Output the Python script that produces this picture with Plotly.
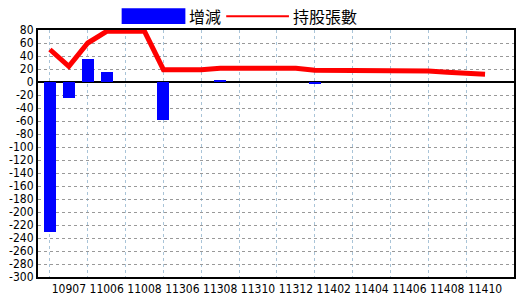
import plotly.graph_objects as go

periods = ["10906", "10907", "11005", "11006", "11007", "11008", "11305", "11306",
           "11307", "11308", "11309", "11310", "11311", "11312", "11401", "11402",
           "11403", "11404", "11405", "11406", "11407", "11408", "11409", "11410"]
change = [-230, -25, 35, 15, 0, 0, -58, 0, 0, 2, 0, 0, 0, 0, -3, 0, 0, 0, 0, 0, 0, 0, 0, 0]
holdings = [50, 24, 60, 78, 78, 78, 19, 19, 19, 21, 21, 21, 21, 21, 18, 18, 18, 18, 18, 18, 17, 15, 14, 12]
tick_labels = periods[1::2]
y_ticks = list(range(-300, 81, 20))

x = list(range(len(periods)))
font_stack = "Liberation Sans Narrow, DejaVu Sans Condensed, Liberation Sans, sans-serif"

fig = go.Figure()
fig.add_trace(go.Bar(x=x, y=change, name="增減", marker=dict(color="#0000ff", line=dict(width=0)),
                     width=0.63, showlegend=False))
fig.add_trace(go.Scatter(x=x, y=holdings, name="持股張數", mode="lines",
                         line=dict(color="#ff0000", width=5), showlegend=False, cliponaxis=True))

fig.update_layout(
    width=520, height=300,
    margin=dict(l=38, r=4, t=30, b=20),
    paper_bgcolor="white", plot_bgcolor="white",
    bargap=0,
    font=dict(family=font_stack, size=12, color="black"),
    xaxis=dict(
        range=[-0.63, 24.53],
        tickmode="array", tickvals=x[1::2], ticktext=tick_labels,
        showgrid=False, ticks="", zeroline=False,
        showline=True, linecolor="black", linewidth=2, mirror=True,
        tickfont=dict(family=font_stack, size=12, color="black"),
        minor=dict(tickmode="array", tickvals=x[0::2], showgrid=True,
                   gridcolor="#a9c4d8", griddash="dot", gridwidth=1, ticks=""),
    ),
    yaxis=dict(
        range=[-300, 80],
        tickmode="array", tickvals=y_ticks, ticktext=[str(v) for v in y_ticks],
        showgrid=True, gridcolor="#999999", griddash="dot", gridwidth=1,
        zeroline=True, zerolinecolor="black", zerolinewidth=2,
        showline=True, linecolor="black", linewidth=2, mirror=True,
        ticks="", ticklen=2,
        tickfont=dict(family=font_stack, size=12, color="black"),
    ),
)

# custom legend
fig.add_shape(type="rect", xref="paper", yref="paper",
              x0=(122 - 38) / 478, x1=(186 - 38) / 478,
              y0=(280 - 24) / 250, y1=(280 - 8) / 250,
              fillcolor="#0000ff", line=dict(width=0))
fig.add_annotation(text="增減", xref="paper", yref="paper",
                   x=(188 - 38) / 478, y=(280 - 16) / 250, xanchor="left", yanchor="middle",
                   showarrow=False, font=dict(family="Noto Sans CJK TC", size=16, color="black"))
fig.add_shape(type="line", xref="paper", yref="paper",
              x0=(227 - 38) / 478, x1=(290 - 38) / 478,
              y0=(280 - 16) / 250, y1=(280 - 16) / 250,
              line=dict(color="#ff0000", width=2))
fig.add_annotation(text="持股張數", xref="paper", yref="paper",
                   x=(292 - 38) / 478, y=(280 - 16) / 250, xanchor="left", yanchor="middle",
                   showarrow=False, font=dict(family="Noto Sans CJK TC", size=16, color="black"))

fig.write_html("out.html")
